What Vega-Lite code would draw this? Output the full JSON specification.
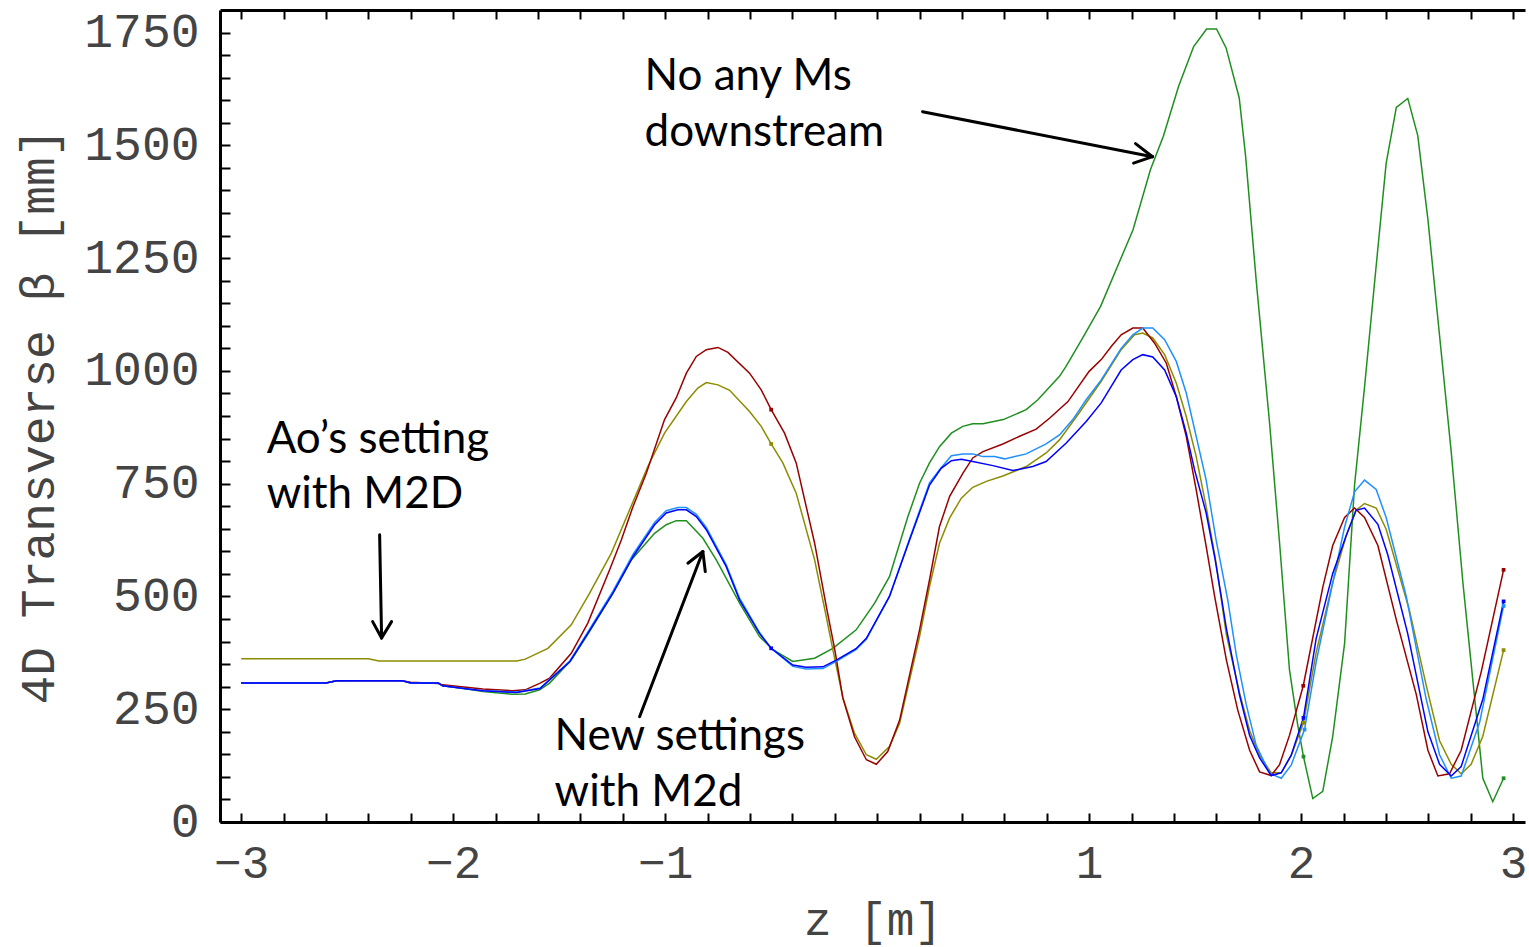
{
"$schema": "https://vega.github.io/schema/vega-lite/v6.json",
"width": 1305, "height": 812,
"autosize": {"type": "none"},
"padding": {"left": 220, "top": 10, "right": 4, "bottom": 125},
"background": "white",
"config": {"view": {"stroke": null}},
"datasets": {
"curves": [
{"s":"green","z":-3,"v":308},{"s":"green","z":-2.6,"v":308},{"s":"green","z":-2.55,"v":313},{"s":"green","z":-2.24,"v":313},{"s":"green","z":-2.2,"v":308},{"s":"green","z":-2.07,"v":308},{"s":"green","z":-2.05,"v":302},{"s":"green","z":-1.95,"v":296},{"s":"green","z":-1.86,"v":289},{"s":"green","z":-1.72,"v":283},{"s":"green","z":-1.66,"v":284},{"s":"green","z":-1.592,"v":293},{"s":"green","z":-1.545,"v":308},{"s":"green","z":-1.443,"v":359},{"s":"green","z":-1.357,"v":422},{"s":"green","z":-1.247,"v":507},{"s":"green","z":-1.16,"v":581},{"s":"green","z":-1.05,"v":640},{"s":"green","z":-0.995,"v":659},{"s":"green","z":-0.948,"v":668},{"s":"green","z":-0.9,"v":668},{"s":"green","z":-0.822,"v":629},{"s":"green","z":-0.759,"v":581},{"s":"green","z":-0.649,"v":485},{"s":"green","z":-0.555,"v":411},{"s":"green","z":-0.492,"v":382},{"s":"green","z":-0.398,"v":356},{"s":"green","z":-0.295,"v":363},{"s":"green","z":-0.209,"v":385},{"s":"green","z":-0.099,"v":426},{"s":"green","z":-0.012,"v":485},{"s":"green","z":0.058,"v":544},{"s":"green","z":0.145,"v":677},{"s":"green","z":0.2,"v":751},{"s":"green","z":0.247,"v":796},{"s":"green","z":0.294,"v":832},{"s":"green","z":0.35,"v":862},{"s":"green","z":0.404,"v":877},{"s":"green","z":0.451,"v":883},{"s":"green","z":0.499,"v":883},{"s":"green","z":0.595,"v":892},{"s":"green","z":0.703,"v":914},{"s":"green","z":0.758,"v":936},{"s":"green","z":0.86,"v":988},{"s":"green","z":0.891,"v":1010},{"s":"green","z":0.973,"v":1076},{"s":"green","z":1.054,"v":1143},{"s":"green","z":1.207,"v":1313},{"s":"green","z":1.289,"v":1446},{"s":"green","z":1.35,"v":1520},{"s":"green","z":1.422,"v":1631},{"s":"green","z":1.493,"v":1719},{"s":"green","z":1.554,"v":1758},{"s":"green","z":1.601,"v":1758},{"s":"green","z":1.646,"v":1716},{"s":"green","z":1.708,"v":1605},{"s":"green","z":1.738,"v":1476},{"s":"green","z":1.789,"v":1195},{"s":"green","z":1.851,"v":885},{"s":"green","z":1.898,"v":620},{"s":"green","z":1.945,"v":337},{"s":"green","z":1.984,"v":215},{"s":"green","z":2.011,"v":145},{"s":"green","z":2.055,"v":52},{"s":"green","z":2.102,"v":68},{"s":"green","z":2.149,"v":190},{"s":"green","z":2.205,"v":396},{"s":"green","z":2.252,"v":747},{"s":"green","z":2.299,"v":964},{"s":"green","z":2.354,"v":1233},{"s":"green","z":2.401,"v":1460},{"s":"green","z":2.449,"v":1584},{"s":"green","z":2.503,"v":1604},{"s":"green","z":2.55,"v":1522},{"s":"green","z":2.598,"v":1336},{"s":"green","z":2.653,"v":1078},{"s":"green","z":2.708,"v":820},{"s":"green","z":2.763,"v":531},{"s":"green","z":2.81,"v":314},{"s":"green","z":2.857,"v":97},{"s":"green","z":2.904,"v":45},{"s":"green","z":2.955,"v":97},
{"s":"olive","z":-3,"v":362},{"s":"olive","z":-2.4,"v":362},{"s":"olive","z":-2.35,"v":357},{"s":"olive","z":-1.7,"v":357},{"s":"olive","z":-1.66,"v":361},{"s":"olive","z":-1.553,"v":385},{"s":"olive","z":-1.443,"v":437},{"s":"olive","z":-1.357,"v":507},{"s":"olive","z":-1.254,"v":596},{"s":"olive","z":-1.121,"v":744},{"s":"olive","z":-1.082,"v":788},{"s":"olive","z":-1.003,"v":862},{"s":"olive","z":-0.9,"v":932},{"s":"olive","z":-0.846,"v":962},{"s":"olive","z":-0.806,"v":974},{"s":"olive","z":-0.751,"v":969},{"s":"olive","z":-0.696,"v":957},{"s":"olive","z":-0.602,"v":910},{"s":"olive","z":-0.547,"v":877},{"s":"olive","z":-0.5,"v":838},{"s":"olive","z":-0.445,"v":796},{"s":"olive","z":-0.382,"v":729},{"s":"olive","z":-0.295,"v":581},{"s":"olive","z":-0.24,"v":455},{"s":"olive","z":-0.209,"v":382},{"s":"olive","z":-0.162,"v":276},{"s":"olive","z":-0.107,"v":197},{"s":"olive","z":-0.051,"v":149},{"s":"olive","z":-0.004,"v":139},{"s":"olive","z":0.058,"v":167},{"s":"olive","z":0.106,"v":219},{"s":"olive","z":0.2,"v":411},{"s":"olive","z":0.247,"v":522},{"s":"olive","z":0.294,"v":618},{"s":"olive","z":0.342,"v":674},{"s":"olive","z":0.397,"v":718},{"s":"olive","z":0.451,"v":742},{"s":"olive","z":0.515,"v":755},{"s":"olive","z":0.593,"v":767},{"s":"olive","z":0.703,"v":788},{"s":"olive","z":0.797,"v":818},{"s":"olive","z":0.86,"v":847},{"s":"olive","z":0.95,"v":905},{"s":"olive","z":1.057,"v":977},{"s":"olive","z":1.151,"v":1047},{"s":"olive","z":1.214,"v":1080},{"s":"olive","z":1.253,"v":1084},{"s":"olive","z":1.3,"v":1073},{"s":"olive","z":1.356,"v":1036},{"s":"olive","z":1.411,"v":973},{"s":"olive","z":1.458,"v":899},{"s":"olive","z":1.505,"v":810},{"s":"olive","z":1.552,"v":699},{"s":"olive","z":1.599,"v":574},{"s":"olive","z":1.647,"v":416},{"s":"olive","z":1.709,"v":287},{"s":"olive","z":1.757,"v":203},{"s":"olive","z":1.804,"v":148},{"s":"olive","z":1.859,"v":109},{"s":"olive","z":1.906,"v":109},{"s":"olive","z":1.953,"v":147},{"s":"olive","z":2.011,"v":220},{"s":"olive","z":2.071,"v":376},{"s":"olive","z":2.149,"v":531},{"s":"olive","z":2.212,"v":634},{"s":"olive","z":2.259,"v":691},{"s":"olive","z":2.299,"v":706},{"s":"olive","z":2.354,"v":696},{"s":"olive","z":2.401,"v":649},{"s":"olive","z":2.511,"v":469},{"s":"olive","z":2.59,"v":303},{"s":"olive","z":2.653,"v":180},{"s":"olive","z":2.708,"v":128},{"s":"olive","z":2.755,"v":107},{"s":"olive","z":2.802,"v":128},{"s":"olive","z":2.857,"v":190},{"s":"olive","z":2.955,"v":381},
{"s":"darkred","z":-3,"v":308},{"s":"darkred","z":-2.6,"v":308},{"s":"darkred","z":-2.55,"v":313},{"s":"darkred","z":-2.24,"v":313},{"s":"darkred","z":-2.2,"v":310},{"s":"darkred","z":-2.07,"v":307},{"s":"darkred","z":-2.05,"v":304},{"s":"darkred","z":-1.95,"v":299},{"s":"darkred","z":-1.86,"v":295},{"s":"darkred","z":-1.72,"v":291},{"s":"darkred","z":-1.66,"v":293},{"s":"darkred","z":-1.59,"v":308},{"s":"darkred","z":-1.545,"v":319},{"s":"darkred","z":-1.443,"v":374},{"s":"darkred","z":-1.365,"v":441},{"s":"darkred","z":-1.262,"v":559},{"s":"darkred","z":-1.207,"v":625},{"s":"darkred","z":-1.152,"v":699},{"s":"darkred","z":-1.089,"v":773},{"s":"darkred","z":-1.003,"v":892},{"s":"darkred","z":-0.948,"v":940},{"s":"darkred","z":-0.9,"v":995},{"s":"darkred","z":-0.853,"v":1032},{"s":"darkred","z":-0.806,"v":1047},{"s":"darkred","z":-0.751,"v":1052},{"s":"darkred","z":-0.704,"v":1041},{"s":"darkred","z":-0.602,"v":995},{"s":"darkred","z":-0.547,"v":958},{"s":"darkred","z":-0.5,"v":914},{"s":"darkred","z":-0.437,"v":862},{"s":"darkred","z":-0.382,"v":796},{"s":"darkred","z":-0.295,"v":618},{"s":"darkred","z":-0.24,"v":478},{"s":"darkred","z":-0.2,"v":382},{"s":"darkred","z":-0.162,"v":275},{"s":"darkred","z":-0.107,"v":189},{"s":"darkred","z":-0.051,"v":138},{"s":"darkred","z":-0.004,"v":128},{"s":"darkred","z":0.05,"v":156},{"s":"darkred","z":0.106,"v":226},{"s":"darkred","z":0.2,"v":426},{"s":"darkred","z":0.247,"v":537},{"s":"darkred","z":0.294,"v":655},{"s":"darkred","z":0.342,"v":722},{"s":"darkred","z":0.404,"v":773},{"s":"darkred","z":0.451,"v":807},{"s":"darkred","z":0.499,"v":821},{"s":"darkred","z":0.593,"v":838},{"s":"darkred","z":0.672,"v":855},{"s":"darkred","z":0.75,"v":871},{"s":"darkred","z":0.813,"v":895},{"s":"darkred","z":0.9,"v":932},{"s":"darkred","z":0.955,"v":969},{"s":"darkred","z":1.0,"v":999},{"s":"darkred","z":1.057,"v":1025},{"s":"darkred","z":1.104,"v":1054},{"s":"darkred","z":1.151,"v":1080},{"s":"darkred","z":1.206,"v":1095},{"s":"darkred","z":1.253,"v":1095},{"s":"darkred","z":1.308,"v":1062},{"s":"darkred","z":1.364,"v":1017},{"s":"darkred","z":1.411,"v":943},{"s":"darkred","z":1.458,"v":855},{"s":"darkred","z":1.505,"v":736},{"s":"darkred","z":1.552,"v":611},{"s":"darkred","z":1.592,"v":500},{"s":"darkred","z":1.647,"v":360},{"s":"darkred","z":1.701,"v":248},{"s":"darkred","z":1.757,"v":159},{"s":"darkred","z":1.804,"v":111},{"s":"darkred","z":1.859,"v":103},{"s":"darkred","z":1.898,"v":127},{"s":"darkred","z":1.945,"v":192},{"s":"darkred","z":2.01,"v":302},{"s":"darkred","z":2.102,"v":520},{"s":"darkred","z":2.149,"v":613},{"s":"darkred","z":2.205,"v":675},{"s":"darkred","z":2.252,"v":696},{"s":"darkred","z":2.299,"v":675},{"s":"darkred","z":2.362,"v":613},{"s":"darkred","z":2.449,"v":448},{"s":"darkred","z":2.543,"v":283},{"s":"darkred","z":2.598,"v":159},{"s":"darkred","z":2.645,"v":102},{"s":"darkred","z":2.7,"v":107},{"s":"darkred","z":2.755,"v":159},{"s":"darkred","z":2.85,"v":334},{"s":"darkred","z":2.955,"v":559},
{"s":"lightblue","z":-3,"v":308},{"s":"lightblue","z":-2.6,"v":308},{"s":"lightblue","z":-2.55,"v":313},{"s":"lightblue","z":-2.24,"v":313},{"s":"lightblue","z":-2.2,"v":308},{"s":"lightblue","z":-2.07,"v":308},{"s":"lightblue","z":-2.05,"v":302},{"s":"lightblue","z":-1.95,"v":296},{"s":"lightblue","z":-1.86,"v":291},{"s":"lightblue","z":-1.7,"v":288},{"s":"lightblue","z":-1.59,"v":297},{"s":"lightblue","z":-1.45,"v":357},{"s":"lightblue","z":-1.365,"v":421},{"s":"lightblue","z":-1.247,"v":511},{"s":"lightblue","z":-1.152,"v":593},{"s":"lightblue","z":-1.05,"v":664},{"s":"lightblue","z":-0.995,"v":690},{"s":"lightblue","z":-0.94,"v":697},{"s":"lightblue","z":-0.9,"v":697},{"s":"lightblue","z":-0.853,"v":682},{"s":"lightblue","z":-0.806,"v":653},{"s":"lightblue","z":-0.712,"v":570},{"s":"lightblue","z":-0.649,"v":496},{"s":"lightblue","z":-0.555,"v":420},{"s":"lightblue","z":-0.5,"v":385},{"s":"lightblue","z":-0.398,"v":345},{"s":"lightblue","z":-0.335,"v":339},{"s":"lightblue","z":-0.256,"v":340},{"s":"lightblue","z":-0.193,"v":356},{"s":"lightblue","z":-0.1,"v":382},{"s":"lightblue","z":-0.051,"v":405},{"s":"lightblue","z":0.058,"v":500},{"s":"lightblue","z":0.153,"v":628},{"s":"lightblue","z":0.247,"v":752},{"s":"lightblue","z":0.294,"v":781},{"s":"lightblue","z":0.35,"v":812},{"s":"lightblue","z":0.404,"v":816},{"s":"lightblue","z":0.451,"v":816},{"s":"lightblue","z":0.499,"v":810},{"s":"lightblue","z":0.554,"v":810},{"s":"lightblue","z":0.601,"v":805},{"s":"lightblue","z":0.703,"v":816},{"s":"lightblue","z":0.797,"v":838},{"s":"lightblue","z":0.86,"v":858},{"s":"lightblue","z":0.923,"v":892},{"s":"lightblue","z":0.986,"v":936},{"s":"lightblue","z":1.057,"v":980},{"s":"lightblue","z":1.151,"v":1050},{"s":"lightblue","z":1.206,"v":1080},{"s":"lightblue","z":1.253,"v":1095},{"s":"lightblue","z":1.3,"v":1095},{"s":"lightblue","z":1.356,"v":1069},{"s":"lightblue","z":1.411,"v":1021},{"s":"lightblue","z":1.458,"v":951},{"s":"lightblue","z":1.505,"v":855},{"s":"lightblue","z":1.552,"v":758},{"s":"lightblue","z":1.599,"v":625},{"s":"lightblue","z":1.654,"v":492},{"s":"lightblue","z":1.694,"v":371},{"s":"lightblue","z":1.741,"v":260},{"s":"lightblue","z":1.788,"v":170},{"s":"lightblue","z":1.851,"v":108},{"s":"lightblue","z":1.906,"v":97},{"s":"lightblue","z":1.953,"v":126},{"s":"lightblue","z":2.016,"v":205},{"s":"lightblue","z":2.071,"v":355},{"s":"lightblue","z":2.149,"v":530},{"s":"lightblue","z":2.205,"v":654},{"s":"lightblue","z":2.252,"v":732},{"s":"lightblue","z":2.299,"v":758},{"s":"lightblue","z":2.354,"v":737},{"s":"lightblue","z":2.401,"v":675},{"s":"lightblue","z":2.496,"v":500},{"s":"lightblue","z":2.59,"v":272},{"s":"lightblue","z":2.653,"v":149},{"s":"lightblue","z":2.708,"v":97},{"s":"lightblue","z":2.755,"v":102},{"s":"lightblue","z":2.842,"v":221},{"s":"lightblue","z":2.955,"v":479},
{"s":"blue","z":-3,"v":308},{"s":"blue","z":-2.6,"v":308},{"s":"blue","z":-2.55,"v":313},{"s":"blue","z":-2.24,"v":313},{"s":"blue","z":-2.2,"v":308},{"s":"blue","z":-2.07,"v":308},{"s":"blue","z":-2.05,"v":302},{"s":"blue","z":-1.95,"v":296},{"s":"blue","z":-1.86,"v":291},{"s":"blue","z":-1.7,"v":287},{"s":"blue","z":-1.59,"v":296},{"s":"blue","z":-1.45,"v":355},{"s":"blue","z":-1.365,"v":418},{"s":"blue","z":-1.247,"v":507},{"s":"blue","z":-1.152,"v":588},{"s":"blue","z":-1.05,"v":659},{"s":"blue","z":-0.995,"v":685},{"s":"blue","z":-0.94,"v":692},{"s":"blue","z":-0.9,"v":692},{"s":"blue","z":-0.853,"v":677},{"s":"blue","z":-0.806,"v":648},{"s":"blue","z":-0.712,"v":566},{"s":"blue","z":-0.649,"v":492},{"s":"blue","z":-0.555,"v":418},{"s":"blue","z":-0.5,"v":385},{"s":"blue","z":-0.398,"v":348},{"s":"blue","z":-0.335,"v":343},{"s":"blue","z":-0.256,"v":344},{"s":"blue","z":-0.193,"v":359},{"s":"blue","z":-0.1,"v":384},{"s":"blue","z":-0.051,"v":407},{"s":"blue","z":0.058,"v":500},{"s":"blue","z":0.153,"v":625},{"s":"blue","z":0.247,"v":747},{"s":"blue","z":0.302,"v":784},{"s":"blue","z":0.35,"v":801},{"s":"blue","z":0.397,"v":804},{"s":"blue","z":0.451,"v":799},{"s":"blue","z":0.546,"v":790},{"s":"blue","z":0.64,"v":779},{"s":"blue","z":0.734,"v":788},{"s":"blue","z":0.797,"v":799},{"s":"blue","z":0.892,"v":840},{"s":"blue","z":0.986,"v":888},{"s":"blue","z":1.057,"v":929},{"s":"blue","z":1.151,"v":1002},{"s":"blue","z":1.206,"v":1025},{"s":"blue","z":1.253,"v":1036},{"s":"blue","z":1.3,"v":1031},{"s":"blue","z":1.356,"v":1002},{"s":"blue","z":1.411,"v":943},{"s":"blue","z":1.458,"v":862},{"s":"blue","z":1.497,"v":781},{"s":"blue","z":1.552,"v":685},{"s":"blue","z":1.592,"v":588},{"s":"blue","z":1.623,"v":500},{"s":"blue","z":1.647,"v":430},{"s":"blue","z":1.709,"v":282},{"s":"blue","z":1.757,"v":192},{"s":"blue","z":1.804,"v":142},{"s":"blue","z":1.859,"v":103},{"s":"blue","z":1.906,"v":109},{"s":"blue","z":1.953,"v":148},{"s":"blue","z":2.011,"v":231},{"s":"blue","z":2.071,"v":407},{"s":"blue","z":2.149,"v":551},{"s":"blue","z":2.212,"v":634},{"s":"blue","z":2.259,"v":691},{"s":"blue","z":2.299,"v":696},{"s":"blue","z":2.362,"v":660},{"s":"blue","z":2.409,"v":592},{"s":"blue","z":2.503,"v":417},{"s":"blue","z":2.598,"v":200},{"s":"blue","z":2.653,"v":128},{"s":"blue","z":2.708,"v":102},{"s":"blue","z":2.755,"v":123},{"s":"blue","z":2.857,"v":272},{"s":"blue","z":2.955,"v":489}
],
"markers": [
{"s":"olive","z":-0.5,"v":838},{"s":"olive","z":2.011,"v":220},{"s":"olive","z":2.955,"v":381},
{"s":"darkred","z":-0.5,"v":914},{"s":"darkred","z":2.01,"v":302},{"s":"darkred","z":2.955,"v":559},
{"s":"blue","z":-0.5,"v":385},{"s":"blue","z":2.011,"v":231},{"s":"blue","z":2.955,"v":489},
{"s":"lightblue","z":2.016,"v":205},{"s":"lightblue","z":2.955,"v":479},
{"s":"green","z":2.011,"v":145},{"s":"green","z":2.955,"v":97}
],
"arrows": [
{"z1":0.2142,"v1":1574.6,"z2":1.299,"v2":1474.8},
{"z1":1.2189,"v1":1503.7,"z2":1.299,"v2":1474.8},
{"z1":1.2094,"v1":1460.6,"z2":1.299,"v2":1474.8},
{"z1":-2.347,"v1":636.5,"z2":-2.3377,"v2":408.1},
{"z1":-2.380,"v1":444.2,"z2":-2.3377,"v2":408.1},
{"z1":-2.2906,"v1":444.2,"z2":-2.3377,"v2":408.1},
{"z1":-1.1208,"v1":233.5,"z2":-0.8222,"v2":599.5},
{"z1":-0.8929,"v1":573.7,"z2":-0.8222,"v2":599.5},
{"z1":-0.8108,"v1":555.1,"z2":-0.8222,"v2":599.5}
],
"notes": [
{"t":"No any Ms","z":-1.0972,"v":1652},
{"t":"downstream","z":-1.0972,"v":1528},
{"t":"Ao’s setting","z":-2.880,"v":847},
{"t":"with M2D","z":-2.880,"v":725},
{"t":"New settings","z":-1.5217,"v":188},
{"t":"with M2d","z":-1.5217,"v":64}
]
},
"resolve": {"axis": {"x": "independent", "y": "independent"}},
"layer": [
{
"data": {"name": "curves"},
"mark": {"type": "line", "strokeWidth": 1.5, "clip": true},
"encoding": {
"x": {"field": "z", "type": "quantitative",
"scale": {"domain": [-3.1, 3.056], "nice": false, "zero": false},
"axis": {"orient": "bottom",
"values": [-3,-2.8,-2.6,-2.4,-2.2,-2,-1.8,-1.6,-1.4,-1.2,-1,-0.8,-0.6,-0.4,-0.2,0,0.2,0.4,0.6,0.8,1,1.2,1.4,1.6,1.8,2,2.2,2.4,2.6,2.8,3],
"labelExpr": "abs(datum.value - round(datum.value)) < 0.01 && abs(datum.value) > 0.01 ? (datum.value < 0 ? '−' + abs(round(datum.value)) : '' + round(datum.value)) : ''",
"grid": false, "tickSize": -9, "tickWidth": 2, "tickColor": "black",
"domainColor": "black", "domainWidth": 3,
"labelFont": "Liberation Mono", "labelFontSize": 46, "labelColor": "#444444",
"labelPadding": 28, "labelFlush": false, "labelOverlap": false,
"title": "z  [m]", "titleFont": "Liberation Mono", "titleFontSize": 46,
"titleFontWeight": "normal", "titleColor": "#444444", "titlePadding": 12}},
"y": {"field": "v", "type": "quantitative",
"scale": {"domain": [0, 1800], "nice": false},
"axis": {"orient": "left", "values": [0,50,100,150,200,250,300,350,400,450,500,550,600,650,700,750,800,850,900,950,1000,1050,1100,1150,1200,1250,1300,1350,1400,1450,1500,1550,1600,1650,1700,1750],
"labelExpr": "datum.value % 250 == 0 ? '' + datum.value : ''",
"grid": false, "tickSize": -10, "tickWidth": 2, "tickColor": "black",
"domainColor": "black", "domainWidth": 3,
"labelFont": "Liberation Mono", "labelFontSize": 48, "labelColor": "#444444",
"labelPadding": 31, "labelFlush": false, "labelOverlap": false,
"title": "4D Transverse β  [mm]", "titleFont": "Liberation Mono", "titleFontSize": 48,
"titleFontWeight": "normal", "titleColor": "#444444", "titlePadding": 20}},
"color": {"field": "s", "type": "nominal",
"scale": {"domain": ["olive","darkred","blue","lightblue","green"], "range": ["#8c8c00","#990000","#0000ff","#1e90ff","#1f8f1f"]},
"legend": null}
}
},
{
"data": {"name": "markers"},
"mark": {"type": "point", "shape": "square", "filled": true, "size": 14, "opacity": 1},
"encoding": {
"x": {"field": "z", "type": "quantitative",
"axis": {"orient": "top",
"values": [-3,-2.8,-2.6,-2.4,-2.2,-2,-1.8,-1.6,-1.4,-1.2,-1,-0.8,-0.6,-0.4,-0.2,0,0.2,0.4,0.6,0.8,1,1.2,1.4,1.6,1.8,2,2.2,2.4,2.6,2.8,3],
"labels": false, "grid": false, "tickSize": -9, "tickWidth": 2, "tickColor": "black",
"domainColor": "black", "domainWidth": 3, "title": null}},
"y": {"field": "v", "type": "quantitative", "axis": null},
"color": {"field": "s", "type": "nominal", "legend": null}
}
},
{
"data": {"name": "arrows"},
"mark": {"type": "rule", "color": "black", "strokeWidth": 3, "strokeCap": "round"},
"encoding": {
"x": {"field": "z1", "type": "quantitative", "axis": null},
"y": {"field": "v1", "type": "quantitative", "axis": null},
"x2": {"field": "z2"},
"y2": {"field": "v2"}
}
},
{
"data": {"name": "notes"},
"mark": {"type": "text", "align": "left", "baseline": "middle", "font": "Lato", "fontSize": 44, "color": "black"},
"encoding": {
"x": {"field": "z", "type": "quantitative", "axis": null},
"y": {"field": "v", "type": "quantitative", "axis": null},
"text": {"field": "t"}
}
}
]
}
